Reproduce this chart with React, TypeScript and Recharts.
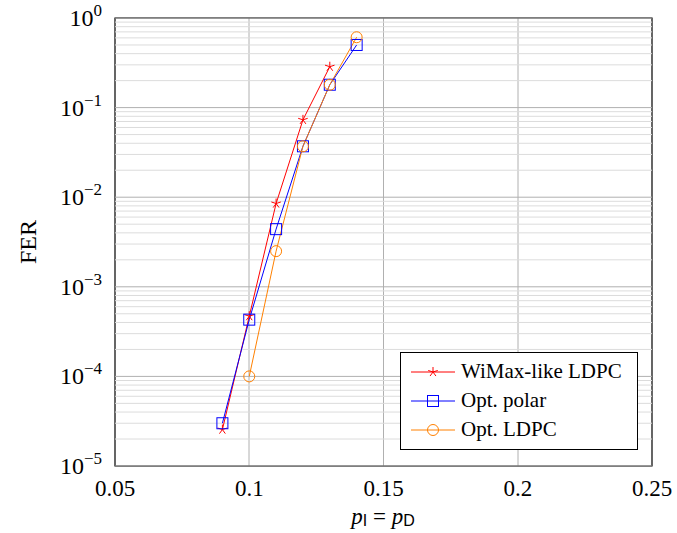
import React from 'react';
import { LineChart, Line, XAxis, YAxis, CartesianGrid, ReferenceLine, ReferenceArea } from 'recharts';

const pValues = [0.09, 0.1, 0.11, 0.12, 0.13, 0.14];
const wimaxFer = [2.55e-5, 4.7e-4, 8.5e-3, 7.3e-2, 0.286, null];
const polarFer = [3.0e-5, 4.3e-4, 4.4e-3, 3.7e-2, 0.18, 0.5];
const ldpcFer = [null, 1.0e-4, 2.5e-3, 3.7e-2, 0.18, 0.61];

const xTicks = [0.05, 0.1, 0.15, 0.2, 0.25];
const yExponents = [-5, -4, -3, -2, -1, 0];
const yTicks = yExponents.map((e) => Math.pow(10, e));
const minorMultipliers = [2, 3, 4, 5, 6, 7, 8, 9];
const minorValues = yExponents.slice(0, -1).flatMap((e) => minorMultipliers.map((m) => m * Math.pow(10, e)));

const series = [
  { key: 'wimax', name: 'WiMax-like LDPC', color: '#ff0000', marker: 'star' },
  { key: 'polar', name: 'Opt. polar', color: '#0000ff', marker: 'square' },
  { key: 'ldpc', name: 'Opt. LDPC', color: '#ff8000', marker: 'circle' },
];

const data = pValues.map((p, i) => ({ p, wimax: wimaxFer[i], polar: polarFer[i], ldpc: ldpcFer[i] }));

const FONT = '"Liberation Serif", "Times New Roman", serif';

function Marker({ type, cx, cy, color }: { type: string; cx: number; cy: number; color: string }) {
  if (type === 'star') {
    const r = 5;
    const arms = [0, 1, 2, 3, 4].map((k) => {
      const a = -Math.PI / 2 + (k * 2 * Math.PI) / 5;
      return <line key={k} x1={cx} y1={cy} x2={cx + r * Math.cos(a)} y2={cy + r * Math.sin(a)} stroke={color} strokeWidth={1} />;
    });
    return <g>{arms}</g>;
  }
  if (type === 'square') {
    return <rect x={cx - 5.5} y={cy - 5.5} width={11} height={11} fill="none" stroke={color} strokeWidth={1} />;
  }
  return <circle cx={cx} cy={cy} r={5.5} fill="none" stroke={color} strokeWidth={1} />;
}

const makeDot = (type: string, color: string) => (props: any) => {
  const { cx, cy, index, value } = props;
  if (cx == null || cy == null || value == null) return <g key={index} />;
  return (
    <g key={index}>
      <Marker type={type} cx={cx} cy={cy} color={color} />
    </g>
  );
};

const YTick = (props: any) => {
  const { x, y, payload } = props;
  const exp = Math.round(Math.log10(payload.value));
  return (
    <text x={x - 5} y={y + 8} textAnchor="end" fontFamily={FONT} fontSize={24} fill="#000">
      10<tspan dy={-10} fontSize={17}>{exp === 0 ? '0' : '\u2212' + Math.abs(exp)}</tspan>
    </text>
  );
};

const XTick = (props: any) => {
  const { x, y, payload } = props;
  return (
    <text x={x} y={y + 22} textAnchor="middle" fontFamily={FONT} fontSize={23} fill="#000">
      {String(payload.value)}
    </text>
  );
};

const LegendBox = () => (
  <div
    style={{
      position: 'absolute',
      left: 400,
      top: 352,
      border: '1px solid #000',
      background: '#fff',
      width: 238,
      height: 98,
      boxSizing: 'border-box',
      paddingTop: 4,
      fontFamily: FONT,
      fontSize: 21,
      lineHeight: '29px',
    }}
  >
    {series.map((s) => (
      <div key={s.key} style={{ display: 'flex', alignItems: 'center', height: 29 }}>
        <svg width={52} height={20} style={{ marginLeft: 8, flex: 'none' }}>
          <line x1={2} y1={10} x2={46} y2={10} stroke={s.color} strokeWidth={1} />
          <Marker type={s.marker} cx={24} cy={10} color={s.color} />
        </svg>
        <span>{s.name}</span>
      </div>
    ))}
  </div>
);

export default function App() {
  return (
    <div style={{ position: 'absolute', left: 0, top: 0, width: 677, height: 533, background: '#fff' }}>
      <LineChart width={677} height={533} data={data} margin={{ top: 18, right: 25, bottom: 0, left: 0 }}>
        <CartesianGrid stroke="#b0b0b0" strokeWidth={1} horizontal={false} verticalPoints={[249, 383.5, 518]} />
        {minorValues.map((v) => (
          <ReferenceLine key={'m' + v} y={v} stroke="#dcdcdc" strokeWidth={1} ifOverflow="hidden" />
        ))}
        {yTicks.map((v) => (
          <ReferenceLine key={'M' + v} y={v} stroke="#b0b0b0" strokeWidth={1} ifOverflow="hidden" />
        ))}
        <XAxis
          dataKey="p"
          type="number"
          domain={[0.05, 0.25]}
          ticks={xTicks}
          tick={<XTick />}
          tickLine={false}
          axisLine={false}
          height={67}
          label={() => (
            <text x={383} y={524} textAnchor="middle" fontFamily={FONT} fontSize={23} fill="#000">
              <tspan fontStyle="italic">p</tspan>
              <tspan fontFamily='"Liberation Sans", sans-serif' fontSize={16} dy={2}>I</tspan>
              <tspan dy={-2}> = </tspan>
              <tspan fontStyle="italic">p</tspan>
              <tspan fontFamily='"Liberation Sans", sans-serif' fontSize={16} dy={2}>D</tspan>
            </text>
          )}
        />
        <YAxis
          type="number"
          scale="log"
          domain={[1e-5, 1]}
          allowDataOverflow
          ticks={yTicks}
          tick={<YTick />}
          tickLine={false}
          axisLine={false}
          width={115}
          label={() => (
            <text x={36} y={242} transform="rotate(-90 36 242)" textAnchor="middle" fontFamily={FONT} fontSize={24} fill="#000">
              FER
            </text>
          )}
        />
        <ReferenceArea x1={0.05} x2={0.25} y1={1e-5} y2={1} fill="none" stroke="#000" strokeWidth={1.2} ifOverflow="visible" />
        {series.map((s) => (
          <Line
            key={s.key}
            dataKey={s.key}
            name={s.name}
            stroke={s.color}
            strokeWidth={1}
            dot={makeDot(s.marker, s.color)}
            activeDot={false}
            isAnimationActive={false}
            connectNulls={false}
          />
        ))}
      </LineChart>
      <LegendBox />
    </div>
  );
}
